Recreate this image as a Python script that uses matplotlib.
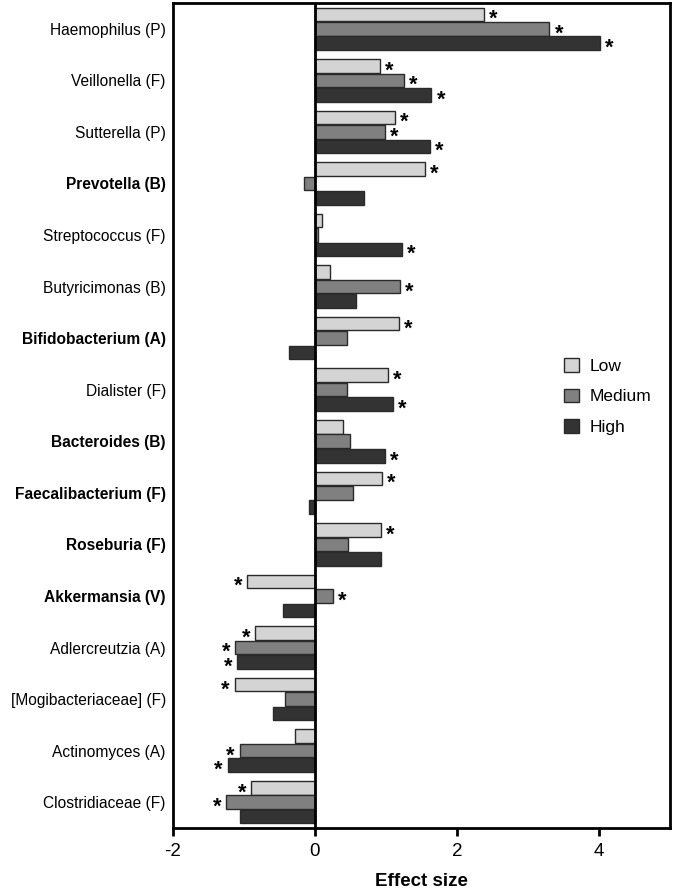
import matplotlib
matplotlib.use("Agg")
import matplotlib.pyplot as plt
import numpy as np
from matplotlib.patches import Patch

plt.rcParams['font.family'] = ['Liberation Sans', 'DejaVu Sans']

categories = ["Haemophilus (P)", "Veillonella (F)", "Sutterella (P)", "Prevotella (B)",
              "Streptococcus (F)", "Butyricimonas (B)", "Bifidobacterium (A)", "Dialister (F)",
              "Bacteroides (B)", "Faecalibacterium (F)", "Roseburia (F)", "Akkermansia (V)",
              "Adlercreutzia (A)", "[Mogibacteriaceae] (F)", "Actinomyces (A)", "Clostridiaceae (F)"]
bold_labels = ["Prevotella (B)", "Bifidobacterium (A)", "Bacteroides (B)",
               "Faecalibacterium (F)", "Roseburia (F)", "Akkermansia (V)"]

low = [2.38, 0.91, 1.12, 1.55, 0.10, 0.21, 1.18, 1.03, 0.39, 0.94, 0.93, -0.95, -0.84, -1.13, -0.28, -0.90]
medium = [3.30, 1.25, 0.98, -0.15, 0.05, 1.19, 0.45, 0.45, 0.49, 0.54, 0.47, 0.25, -1.12, -0.42, -1.06, -1.25]
high = [4.01, 1.64, 1.62, 0.69, 1.22, 0.58, -0.37, 1.10, 0.99, -0.09, 0.93, -0.45, -1.09, -0.59, -1.23, -1.05]

sig_low = [1, 1, 1, 1, 0, 0, 1, 1, 0, 1, 1, 1, 1, 1, 0, 1]
sig_medium = [1, 1, 1, 0, 0, 1, 0, 0, 0, 0, 0, 1, 1, 0, 1, 1]
sig_high = [1, 1, 1, 0, 1, 0, 0, 1, 1, 0, 0, 0, 1, 0, 1, 0]

series_names = ["Low", "Medium", "High"]
colors = ["#d4d4d4", "#808080", "#333333"]
xticks = [-2, 0, 2, 4]

fig = plt.figure(figsize=(6.75, 8.92), dpi=100)
ax = fig.add_axes([0.256, 0.0717, 0.737, 0.925])

n = len(categories)
y = np.arange(n)
bh = 0.28
offsets = [-bh, 0, bh]
all_vals = [low, medium, high]
all_sig = [sig_low, sig_medium, sig_high]

for vals, sig, off, c, name in zip(all_vals, all_sig, offsets, colors, series_names):
    ax.barh(y + off, vals, height=bh * 0.94, color=c, edgecolor="#2a2a2a",
            linewidth=1.0, label=name, zorder=2)
    for yi, v, s in zip(y, vals, sig):
        if s:
            if v >= 0:
                ax.text(v + 0.07, yi + off + 0.1, "*", ha="left", va="center",
                        fontsize=15.5, fontweight="bold", color="black", zorder=3)
            else:
                ax.text(v - 0.07, yi + off + 0.1, "*", ha="right", va="center",
                        fontsize=15.5, fontweight="bold", color="black", zorder=3)

ax.axvline(0, color="black", linewidth=2.0, zorder=4)
ax.set_xlim(-2, 5)
ax.set_ylim(n - 0.5, -0.5)
ax.set_xticks(xticks)
ax.set_xticklabels([str(t) for t in xticks], fontsize=13.5)
ax.set_yticks(y)
ax.set_yticklabels(categories, fontsize=11.2)
for lbl in ax.get_yticklabels():
    if lbl.get_text() in bold_labels:
        lbl.set_fontweight("bold")
ax.tick_params(axis="y", length=0, pad=5)
ax.tick_params(axis="x", length=6, width=2, direction="out", pad=5)
for sp in ax.spines.values():
    sp.set_linewidth(2.0)
ax.set_xlabel("Effect size", fontsize=13.5, fontweight="bold", labelpad=9)

handles = [Patch(facecolor=c, edgecolor="#2a2a2a", linewidth=1.0, label=nm)
           for c, nm in zip(colors, series_names)]
leg = ax.legend(handles=handles, loc="center left", bbox_to_anchor=(0.755, 0.523),
                frameon=False, fontsize=12.5, handlelength=0.85, handleheight=0.85,
                labelspacing=0.85, handletextpad=0.6)

fig.savefig("out.png", dpi=100)
